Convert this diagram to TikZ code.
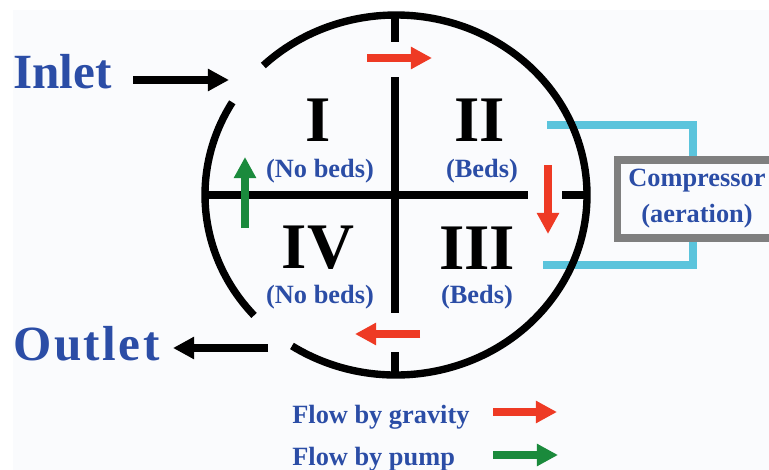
\documentclass[tikz,border=0pt]{standalone}
\usepackage{fontspec}
\setmainfont{Liberation Serif}
\usetikzlibrary{arrows.meta}
\definecolor{textblue}{HTML}{2B4DA6}
\definecolor{flowred}{HTML}{EE3A24}
\definecolor{pumpgreen}{HTML}{1A8A3C}
\definecolor{aircyan}{HTML}{5BC4DC}
\definecolor{boxgray}{HTML}{7F7F7F}
\definecolor{paper}{HTML}{FAFBFD}
\newcommand{\fsz}[2]{\fontsize{#1}{#2}\selectfont}

\begin{document}
\begin{tikzpicture}[
    x=0.02cm, y=-0.02cm,
    wall/.style={line width=4.2pt},
    numeral/.style={font=\fsz{37}{39}\bfseries, text=black, inner sep=0pt},
    bedtext/.style={font=\fsz{15}{17}\bfseries, text=textblue, inner sep=0pt},
    porttext/.style={font=\fsz{28}{30}\bfseries, text=textblue, inner sep=0pt},
    legendtext/.style={font=\fsz{15}{17}\bfseries, text=textblue, inner sep=0pt},
    compbox/.style={draw=boxgray, line width=4pt, fill=paper, minimum width=3.2cm, minimum height=1.56cm, inner sep=0pt, align=center, font=\fsz{15}{20.5}\bfseries, text=textblue},
    portarrow/.style={line width=4pt, -{Triangle[length=12pt,width=12pt]}},
    flowarrow/.style={line width=4pt, -{Triangle[length=12pt,width=12pt]}},
    gravity/.style={flowarrow, draw=flowred},
    pump/.style={flowarrow, draw=pumpgreen},
    airline/.style={draw=aircyan, line width=4.2pt},
]
\clip (0,0) rectangle (769,470);
\fill[white] (0,0) rectangle (769,470);
\fill[paper] (13,10) rectangle (769,470);

% --- Aeration lines ---
\coordinate (airtop) at (547,125);
\coordinate (airbot) at (543,265);
\node[compbox] (comp) at (697,199) {Compressor\\(aeration)};
\draw[airline] (airtop) -| ([xshift=-2.3pt]comp.north);
\draw[airline] (airbot) -| ([xshift=-2.3pt]comp.south);

% --- Tank wall ---
\coordinate (c) at (396,195);
\draw[wall] (c) ++(-149:191 and 180) arc[start angle=-149, end angle=-222, x radius=191, y radius=180];
\draw[wall] (c) ++(-237:191 and 180) arc[start angle=-237, end angle=-494, x radius=191, y radius=180];

% --- Partitions ---
\draw[wall] (395,17) -- (395,42);
\draw[wall] (395,77) -- (395,313);
\draw[wall] (395,352) -- (395,375);
\draw[wall] (206,195) -- (528,195);
\draw[wall] (562,195) -- (587,195);

% --- Zones ---
\node[numeral] (zI) at (318,120) {I};
\node[numeral] (zII) at (480,120) {II};
\node[numeral] (zIII) at (477,248) {III};
\node[numeral] (zIV) at (318,248) {IV};
\node[bedtext] (bI) at (320,171) {(No beds)};
\node[bedtext] (bII) at (482,171) {(Beds)};
\node[bedtext] (bIII) at (477,297) {(Beds)};
\node[bedtext] (bIV) at (320,297) {(No beds)};

% --- Flow inside ---
\coordinate (g1s) at (367,58);
\coordinate (g1e) at (432,58);
\coordinate (g2s) at (548,165);
\coordinate (g2e) at (548,234);
\coordinate (g3s) at (420,334);
\coordinate (g3e) at (355,334);
\coordinate (p1s) at (245,228);
\coordinate (p1e) at (245,157);
\draw[gravity] (g1s) -- (g1e);
\draw[gravity] (g2s) -- (g2e);
\draw[gravity] (g3s) -- (g3e);
\draw[pump] (p1s) -- (p1e);

% --- Inlet / outlet ---
\node[porttext, anchor=west] (inlet) at (13,72) {Inlet};
\node[porttext, anchor=west] (outlet) at (13,344) {\addfontfeature{LetterSpace=5}Outlet};
\coordinate (infrom) at (133,80);
\coordinate (ingap) at (229,80);
\coordinate (outgap) at (268,348);
\coordinate (outto) at (173,348);
\draw[portarrow] (infrom) -- (ingap);
\draw[portarrow] (outgap) -- (outto);

% --- Legend ---
\node[legendtext, anchor=base west] (lgrav) at (292,423) {Flow by gravity};
\node[legendtext, anchor=base west] (lpump) at (292,465) {Flow by pump};
\coordinate (lg1) at (493,412);
\coordinate (lg2) at (557,412);
\coordinate (lp1) at (493,455);
\coordinate (lp2) at (558,455);
\draw[gravity] (lg1) -- (lg2);
\draw[pump] (lp1) -- (lp2);

\end{tikzpicture}
\end{document}
